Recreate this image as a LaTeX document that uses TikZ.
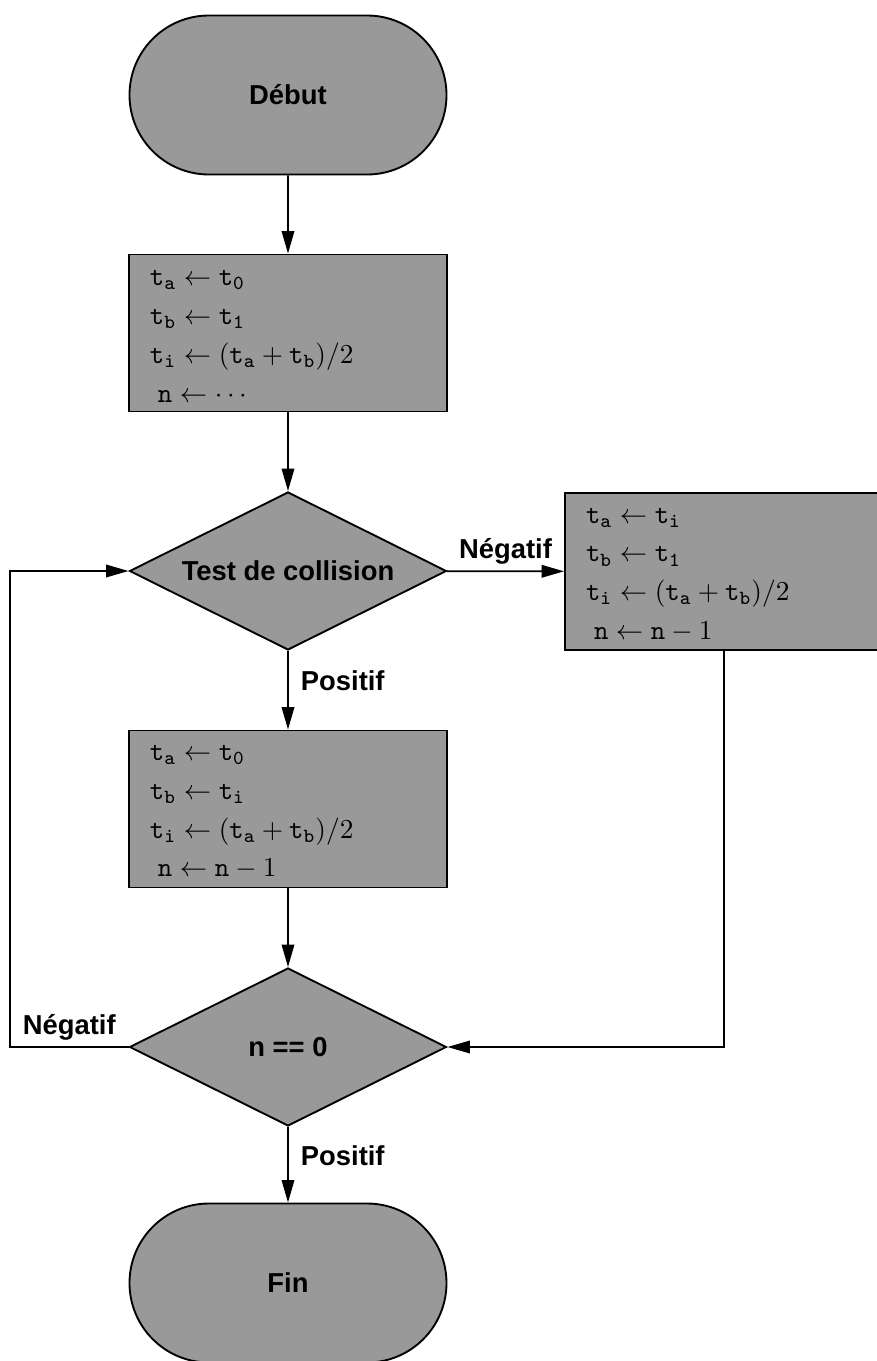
\documentclass[tikz,border=0pt]{standalone}
\usepackage[no-math]{fontspec}
\newfontfamily\labfont{Liberation Sans}
\usetikzlibrary{shapes.misc,shapes.geometric,arrows.meta,calc}
\begin{document}
\begin{tikzpicture}[x=0.4pt,y=-0.4pt,
  every node/.style={font=\fontsize{10.95}{15.5}\selectfont},
  shapebase/.style={draw=black, fill=black!40, line width=0.75pt},
  terminal/.style={shapebase, rounded rectangle, minimum width=126.8pt,
    minimum height=63.6pt, inner sep=0pt,
    font=\labfont\bfseries\fontsize{10.95}{13}\selectfont},
  decision/.style={shapebase, diamond, aspect=2, minimum width=126.8pt,
    minimum height=63.2pt, inner sep=0pt,
    font=\labfont\bfseries\fontsize{10.95}{13}\selectfont},
  process/.style={shapebase, rectangle, align=left, text width=110.4pt,
    inner xsep=8.4pt, inner ysep=0pt, minimum height=62.8pt},
  flow/.style={line width=0.75pt, -{Triangle[length=9pt,width=5pt]}},
  tag/.style={font=\labfont\bfseries\fontsize{10.95}{13}\selectfont},
]
\useasboundingbox (0,0) rectangle (877,1361);

% nodes of the flowchart
\node[terminal] (debut) at (288,95) {Début};
\node[process] (init) at (288,333) {%
  \rule{0pt}{8.8pt}$\mathtt{t_a}\leftarrow\mathtt{t_0}$\\
  $\mathtt{t_b}\leftarrow\mathtt{t_1}$\\
  $\mathtt{t_i}\leftarrow(\mathtt{t_a}+\mathtt{t_b})/2$\\
  \hspace*{3.2pt}$\mathtt{n}\leftarrow\cdots$};
\node[decision] (test) at (288,571) {Test de collision};
\node[process] (neg) at (724,571.5) {%
  \rule{0pt}{8.8pt}$\mathtt{t_a}\leftarrow\mathtt{t_i}$\\
  $\mathtt{t_b}\leftarrow\mathtt{t_1}$\\
  $\mathtt{t_i}\leftarrow(\mathtt{t_a}+\mathtt{t_b})/2$\\
  \hspace*{3.2pt}$\mathtt{n}\leftarrow\mathtt{n}-1$};
\node[process] (pos) at (288,809) {%
  \rule{0pt}{8.8pt}$\mathtt{t_a}\leftarrow\mathtt{t_0}$\\
  $\mathtt{t_b}\leftarrow\mathtt{t_i}$\\
  $\mathtt{t_i}\leftarrow(\mathtt{t_a}+\mathtt{t_b})/2$\\
  \hspace*{3.2pt}$\mathtt{n}\leftarrow\mathtt{n}-1$};
\node[decision] (count) at (288,1047) {n == 0};
\node[terminal] (fin) at (288,1283) {Fin};

% corner of the loop back to the collision test
\coordinate (loop) at (10,1047);

% connectors
\draw[flow] (debut) -- (init);
\draw[flow] (init) -- (test);
\draw[flow] (test) -- node[tag, above, inner sep=2.5pt] {Négatif} (neg);
\draw[flow] (test) -- node[tag, pos=0.375, anchor=west, inner xsep=4.8pt] {Positif} (pos);
\draw[flow] (pos) -- (count);
\draw[flow] (count) -- node[tag, pos=0.385, anchor=west, inner xsep=4.8pt] {Positif} (fin);
\draw[flow] (neg.south) |- (count.east);
\draw[flow] (count.west) -- node[tag, above, inner sep=2.5pt] {Négatif} (loop) |- (test.west);
\end{tikzpicture}
\end{document}
